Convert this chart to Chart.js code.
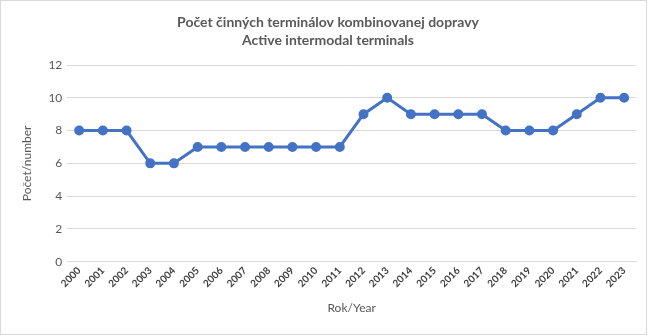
<!DOCTYPE html>
<html>
<head>
<meta charset="utf-8">
<script src="https://cdn.jsdelivr.net/npm/chart.js@4/dist/chart.umd.min.js"></script>
<style>
html,body{margin:0;padding:0;background:#fff;}
#wrap{position:relative;width:650px;height:335px;}
</style>
</head>
<body>
<div id="wrap"><canvas id="c" width="650" height="335"></canvas></div>
<script>
const years = ["2000","2001","2002","2003","2004","2005","2006","2007","2008","2009","2010","2011","2012","2013","2014","2015","2016","2017","2018","2019","2020","2021","2022","2023"];
const terminals = [8,8,8,6,6,7,7,7,7,7,7,7,9,10,9,9,9,9,8,8,8,9,10,10];
const titleLines = ["Počet činných terminálov kombinovanej dopravy","Active intermodal terminals"];
const xTitle = "Rok/Year";
const yTitle = "Počet/number";

const FONT = "Lato, 'Open Sans', sans-serif";

const borderPlugin = {
  id: 'border',
  afterDraw(chart) {
    const ctx = chart.ctx;
    ctx.save();
    ctx.strokeStyle = '#d9d9d9';
    ctx.lineWidth = 1;
    ctx.strokeRect(0.5, 0.5, chart.width - 4, chart.height - 1);
    ctx.restore();
  }
};

new Chart(document.getElementById('c'), {
  type: 'line',
  data: {
    labels: years,
    datasets: [{
      data: terminals,
      borderColor: '#4472C4',
      backgroundColor: '#4472C4',
      borderWidth: 3,
      pointRadius: 3.5,
      pointHoverRadius: 3.5,
      pointBackgroundColor: '#4472C4',
      pointBorderColor: '#4472C4',
      tension: 0
    }]
  },
  options: {
    responsive: false,
    animation: false,
    devicePixelRatio: 1,
    layout: { padding: { left: 20, right: 14, top: 6, bottom: 20 } },
    plugins: {
      legend: { display: false },
      tooltip: { enabled: false },
      title: {
        display: true,
        text: titleLines,
        color: '#595959',
        font: { family: FONT, size: 14, weight: 'bold', lineHeight: 1.25 },
        padding: { top: 8, bottom: 16 }
      }
    },
    scales: {
      x: {
        offset: true,
        grid: { display: false, drawTicks: false },
        border: { display: true, color: '#d9d9d9' },
        ticks: {
          color: '#404040',
          font: { family: FONT, size: 10, weight: 'bold' },
          minRotation: 45, maxRotation: 45, autoSkip: false, padding: 3
        },
        title: {
          display: true, text: xTitle, color: '#595959',
          font: { family: FONT, size: 12 }, padding: { top: 8, bottom: 0 }
        }
      },
      y: {
        min: 0, max: 12,
        ticks: { stepSize: 2, color: '#595959', font: { family: FONT, size: 12 }, padding: 5 },
        grid: { color: '#d9d9d9', drawTicks: false },
        border: { display: false },
        title: {
          display: true, text: yTitle, color: '#595959',
          font: { family: FONT, size: 12 }, padding: { top: 0, bottom: 9 }
        }
      }
    }
  },
  plugins: [borderPlugin]
});
</script>
</body>
</html>
